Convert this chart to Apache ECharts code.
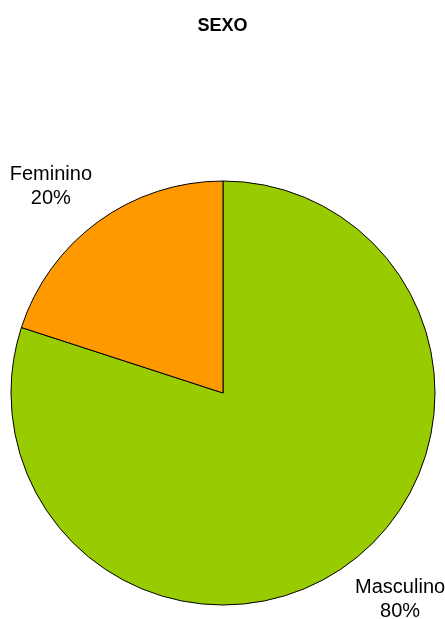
<!DOCTYPE html>
<html>
<head>
<meta charset="utf-8">
<script src="https://cdn.jsdelivr.net/npm/echarts@6/dist/echarts.min.js"></script>
<style>
  html, body { margin: 0; padding: 0; background: #fff; }
  #chart { width: 445px; height: 619px; }
</style>
</head>
<body>
<div id="chart"></div>
<script>
// Distribution by sex
const titleText = 'SEXO';
const categories = ['Masculino', 'Feminino'];
const values = [80, 20];
const colors = ['#99CC00', '#FF9900'];

const chart = echarts.init(document.getElementById('chart'), null, { renderer: 'canvas' });

const pieData = categories.map((name, i) => ({
  name: name,
  value: values[i],
  itemStyle: { color: colors[i] }
}));

chart.setOption({
  animation: false,
  backgroundColor: '#ffffff',
  title: {
    text: titleText,
    left: 'center',
    top: 12,
    textStyle: { fontFamily: 'Liberation Sans, Arial, sans-serif', fontSize: 18, fontWeight: 'bold', color: '#000' }
  },
  series: [{
    type: 'pie',
    center: [223, 393],
    radius: 212,
    startAngle: 90,
    clockwise: true,
    data: pieData,
    itemStyle: { borderColor: '#000', borderWidth: 1 },
    label: {
      show: true,
      position: 'outside',
      alignTo: 'none',
      overflow: 'none',
      width: 200,
      formatter: '{b}\n{d}%',
      fontFamily: 'Liberation Sans, Arial, sans-serif',
      fontSize: 20,
      lineHeight: 24,
      color: '#000'
    },
    labelLine: { show: false, length: 10, length2: 0 },
    // Place each label diagonally off the slice edge, centred on its own box
    labelLayout: function (p) {
      const pts = p.labelLinePoints;
      if (!pts) return {};
      const edge = pts[0];
      const sx = pts[1][0] >= edge[0] ? 1 : -1;
      const sy = pts[1][1] >= edge[1] ? 1 : -1;
      return {
        x: edge[0] + sx * 50 + 2.5,
        y: edge[1] + sy * 35,
        align: 'center',
        verticalAlign: 'middle'
      };
    },
    emphasis: { disabled: true }
  }]
});
</script>
</body>
</html>
